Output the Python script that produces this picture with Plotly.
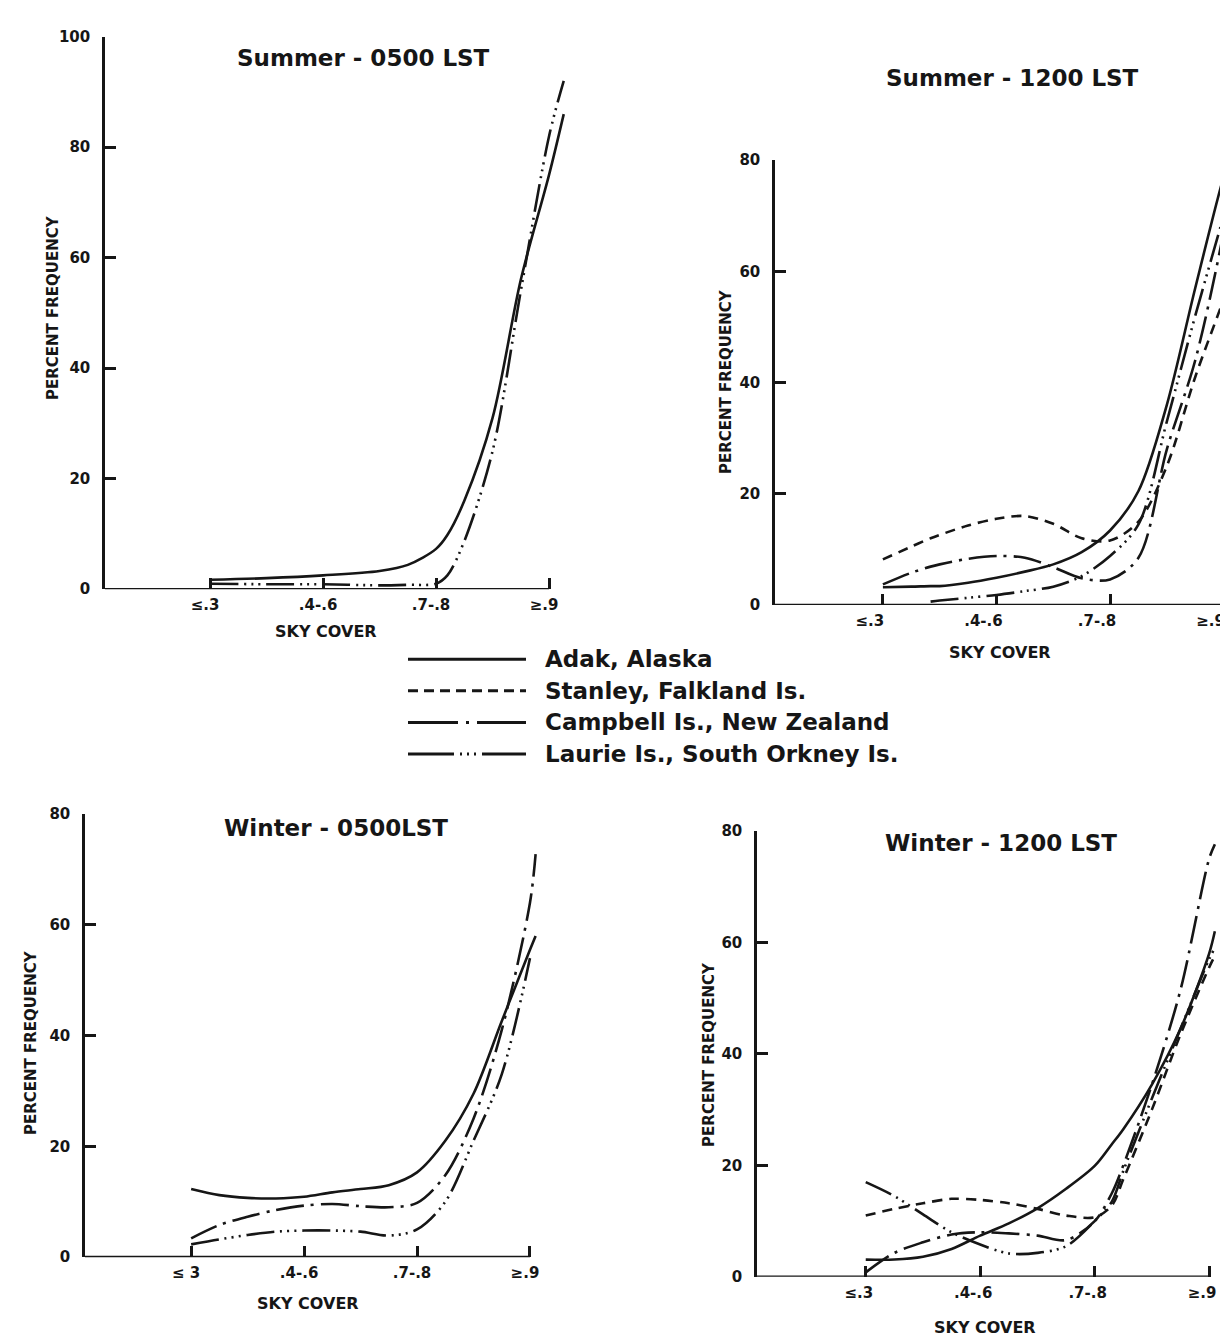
import plotly.graph_objects as go

W, H = 1228, 1341
INK = "#161616"
FONT = "DejaVu Sans"

# ---------------- data ----------------
SKY_COVER = ["≤.3", ".4-.6", ".7-.8", "≥.9"]
SKY_COVER_W05 = ["≤ 3", ".4-.6", ".7-.8", "≥.9"]
CAT_POS = [0, 1, 2, 3]

STATIONS = ["Adak, Alaska", "Stanley, Falkland Is.",
            "Campbell Is., New Zealand", "Laurie Is., South Orkney Is."]

# Summer - 0500 LST (positions along sky-cover axis, category index units)
S05_POS = [0, 0.5, 1, 1.5, 1.75, 2, 2.1, 2.25, 2.5, 2.75, 3, 3.13]
S05_ADAK = [1.7, 2.0, 2.5, 3.3, 4.4, 7.3, 9.8, 16, 31, 56, 75, 86]
S05_LAURIE = [1.0, 0.9, 0.9, 0.7, 0.8, 1.0, 2.5, 8.7, 25, 54, 82, 92]

# Summer - 1200 LST
S12_POS = [0, 0.25, 0.42, 0.5, 0.75, 1, 1.25, 1.5, 1.75, 2, 2.25, 2.5, 2.75, 3, 3.08]
S12_ADAK = [3.2, 3.3, 3.4, 3.4, 4.0, 4.9, 6.0, 7.3, 9.5, 13.4, 20.5, 36, 57, 77, 82]
S12_STANLEY = [8.2, 10.5, 12, 12.6, 14.3, 15.5, 16, 14.6, 12.0, 11.6, 15, 25, 41, 55, 60]
S12_CAMPBELL = [3.7, 5.8, 6.9, 7.3, 8.3, 8.8, 8.5, 6.8, 4.8, 4.6, 8.5, 28, 44, 67, 76.5]
S12_LAURIE = [None, None, 0.6, 0.8, 1.3, 1.8, 2.5, 3.3, 5.2, 8.8, 14.5, 33, 52, 70, 76]

# Winter - 0500 LST
W05_POS = [0, 0.25, 0.5, 0.75, 1, 1.25, 1.5, 1.75, 2, 2.25, 2.5, 2.75, 3, 3.05]
W05_ADAK = [12.3, 11.2, 10.7, 10.6, 10.9, 11.7, 12.3, 13.0, 15.3, 21, 29.5, 42.6, 55.5, 58]
W05_CAMPBELL = [3.4, 5.8, 7.3, 8.5, 9.3, 9.6, 9.2, 9.0, 9.8, 14.8, 25, 41, 64, 72.8]
W05_LAURIE = [2.3, 3.2, 4.0, 4.6, 4.8, 4.8, 4.6, 3.9, 5.0, 10, 21, 33, 54, None]

# Winter - 1200 LST
W12_POS = [0, 0.25, 0.5, 0.75, 1, 1.25, 1.5, 1.75, 2, 2.15, 2.25, 2.5, 2.75, 3, 3.05]
W12_ADAK = [3.1, 3.1, 3.6, 5.0, 7.4, 9.6, 12.3, 15.8, 19.9, 23.8, 26.5, 34.5, 44.5, 58, 62]
W12_STANLEY = [11, 12.2, 13.2, 14, 13.8, 13.2, 12.2, 11, 10.7, 12.8, 17.5, 30, 43.5, 55.5, 57.6]
W12_CAMPBELL = [0.8, 4.3, 6.2, 7.6, 8.0, 7.8, 7.4, 6.6, 10, 15, 20, 34.5, 51.5, 75, 77.6]
W12_LAURIE = [17, 14.5, 11.2, 8.0, 5.8, 4.2, 4.3, 5.5, 10, 13.5, 19, 32, 44.5, 57, 59]

# ---------------- styles ----------------
CURVE_DASH = {
    STATIONS[0]: "solid",
    STATIONS[1]: "10px,7px",
    STATIONS[2]: "28px,7px,3px,7px",
    STATIONS[3]: "28px,6px,2px,5px,2px,5px,2px,6px",
}
LEGEND_DASH = {
    STATIONS[0]: "solid",
    STATIONS[1]: "10px,6px",
    STATIONS[2]: "50px,8px,3px,8px",
    STATIONS[3]: "46px,6px,2px,5px,2px,5px,2px,6px",
}

panels = [
    dict(title="Summer - 0500 LST", labels=SKY_COVER, pos=S05_POS,
         series={STATIONS[0]: S05_ADAK, STATIONS[3]: S05_LAURIE},
         xpx=(97, 558), xr=[-0.93, 3.15], ypx=(20, 580), yr=[0, 100],
         yt=[0, 20, 40, 60, 80, 100], shift=-5,
         tpos=(355, 42), ytpos=(45, 295), xtpos=(318, 623)),
    dict(title="Summer - 1200 LST", labels=SKY_COVER, pos=S12_POS,
         series={STATIONS[0]: S12_ADAK, STATIONS[1]: S12_STANLEY,
                 STATIONS[2]: S12_CAMPBELL, STATIONS[3]: S12_LAURIE},
         xpx=(767, 1227), xr=[-0.95, 3.1], ypx=(145, 596), yr=[0, 80],
         yt=[0, 20, 40, 60, 80], shift=-13,
         tpos=(1004, 62), ytpos=(718, 370), xtpos=(992, 644)),
    dict(title="Winter - 0500LST", labels=SKY_COVER_W05, pos=W05_POS,
         series={STATIONS[0]: W05_ADAK, STATIONS[2]: W05_CAMPBELL,
                 STATIONS[3]: W05_LAURIE},
         xpx=(77, 531), xr=[-0.94, 3.08], ypx=(808, 1257), yr=[0, 80],
         yt=[0, 20, 40, 60, 80], shift=-5,
         tpos=(328, 822), ytpos=(23, 1040), xtpos=(300, 1304)),
    dict(title="Winter - 1200 LST", labels=SKY_COVER, pos=W12_POS,
         series={STATIONS[0]: W12_ADAK, STATIONS[1]: W12_STANLEY,
                 STATIONS[2]: W12_CAMPBELL, STATIONS[3]: W12_LAURIE},
         xpx=(749, 1208), xr=[-0.95, 3.06], ypx=(825, 1277), yr=[0, 80],
         yt=[0, 20, 40, 60, 80], shift=-7,
         tpos=(993, 837), ytpos=(701, 1052), xtpos=(977, 1328)),
]

fig = go.Figure()
layout = {}
shapes = []
annotations = []


def px(x):
    return x / W


def py(y):
    return 1 - y / H


for i, p in enumerate(panels, start=1):
    xa = "x" if i == 1 else f"x{i}"
    ya = "y" if i == 1 else f"y{i}"
    for name, vals in p["series"].items():
        fig.add_trace(go.Scatter(
            x=p["pos"], y=vals, mode="lines", name=name,
            line=dict(color=INK, width=2.6, dash=CURVE_DASH[name],
                      shape="spline", smoothing=0.9),
            xaxis=xa, yaxis=ya, showlegend=False, connectgaps=False,
            hoverinfo="skip"))
    layout[f"xaxis{'' if i == 1 else i}"] = dict(
        domain=[px(p["xpx"][0]), px(p["xpx"][1])], range=p["xr"],
        anchor=ya, tickmode="array", tickvals=CAT_POS, ticktext=p["labels"],
        ticks="inside", ticklen=11, tickwidth=2.5, tickcolor=INK,
        showline=False, showgrid=False, zeroline=False,
        tickfont=dict(family=FONT, size=15, color=INK, weight=700),
        ticklabelstandoff=5, ticklabelshift=p["shift"])
    layout[f"yaxis{'' if i == 1 else i}"] = dict(
        domain=[py(p["ypx"][1]), py(p["ypx"][0])], range=p["yr"],
        anchor=xa, tickmode="array", tickvals=p["yt"],
        ticks="inside", ticklen=11, tickwidth=2.5, tickcolor=INK,
        showline=True, linewidth=2.5, linecolor=INK,
        showgrid=False, zeroline=False,
        tickfont=dict(family=FONT, size=15, color=INK, weight=700),
        ticklabelstandoff=9)
    # x-axis baseline ends at the last sky-cover category
    shapes.append(dict(type="line", xref=xa, yref=ya,
                       x0=p["xr"][0], x1=CAT_POS[-1], y0=0, y1=0,
                       line=dict(color=INK, width=2.5)))
    annotations.append(dict(text=p["title"], x=px(p["tpos"][0]), y=py(p["tpos"][1]),
                            xref="paper", yref="paper", showarrow=False,
                            xanchor="center", yanchor="middle",
                            font=dict(family=FONT, size=23, color=INK, weight=700)))
    annotations.append(dict(text="PERCENT FREQUENCY", x=px(p["ytpos"][0]), y=py(p["ytpos"][1]),
                            xref="paper", yref="paper", showarrow=False, textangle=-90,
                            xanchor="center", yanchor="middle",
                            font=dict(family=FONT, size=15, color=INK, weight=700)))
    annotations.append(dict(text="SKY COVER", x=px(p["xtpos"][0]), y=py(p["xtpos"][1]),
                            xref="paper", yref="paper", showarrow=False,
                            xanchor="center", yanchor="middle",
                            font=dict(family=FONT, size=16, color=INK, weight=700)))

# legend (centre of the page)
LEG_ROWS = [651, 683, 715, 747]
for name, row in zip(STATIONS, LEG_ROWS):
    shapes.append(dict(type="line", xref="paper", yref="paper",
                       x0=px(400), x1=px(518), y0=py(row), y1=py(row),
                       line=dict(color=INK, width=3, dash=LEGEND_DASH[name])))
    annotations.append(dict(text=name, x=px(535), y=py(row), xref="paper", yref="paper",
                            showarrow=False, xanchor="left", yanchor="middle",
                            font=dict(family=FONT, size=23, color=INK, weight=700)))

fig.update_layout(
    width=W, height=H, margin=dict(l=0, r=0, t=0, b=0),
    paper_bgcolor="white", plot_bgcolor="white",
    shapes=shapes, annotations=annotations, showlegend=False,
    **layout)

fig.write_html("out.html")
